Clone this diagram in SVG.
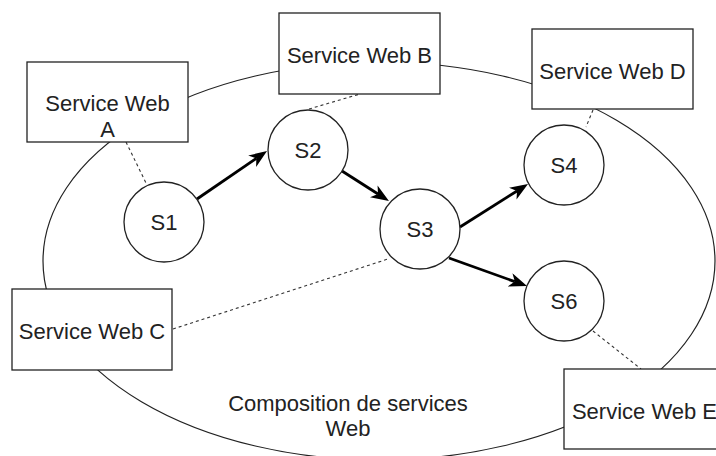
<svg xmlns="http://www.w3.org/2000/svg" width="716" height="456" viewBox="0 0 716 456">
<defs>
<style>
.bg{fill:#fff}
.shape{fill:#fff;stroke:#222;stroke-width:1.3}
.ell{fill:#fff;stroke:#222;stroke-width:1.2}
.lbl{font-family:"Liberation Sans",Arial,sans-serif;font-size:22px;fill:#222;text-anchor:middle}
.dash{fill:none;stroke:#333;stroke-width:1.1;stroke-dasharray:3 3}
.arrow{fill:none;stroke:#000;stroke-width:2.8;marker-end:url(#ah)}
</style>
<marker id="ah" markerUnits="userSpaceOnUse" markerWidth="18" markerHeight="14" refX="5" refY="7" orient="auto" viewBox="0 0 18 14">
<path d="M0,0 L18,7 L0,14 L5,7 Z" fill="#000"/>
</marker>
</defs>
<rect class="bg" x="0" y="0" width="716" height="456"/>
<g id="composition">
<ellipse class="ell" cx="379" cy="261" rx="336" ry="199"/>
<text class="lbl" x="348" y="411">Composition de services</text>
<text class="lbl" x="348" y="436">Web</text>
</g>
<g id="connectors">
<line class="dash" x1="126" y1="142" x2="146" y2="183"/>
<line class="dash" x1="309" y1="109" x2="360" y2="94"/>
<line class="dash" x1="593" y1="110" x2="586" y2="127"/>
<line class="dash" x1="173" y1="329" x2="388" y2="259"/>
<line class="dash" x1="593" y1="331" x2="641" y2="369"/>
<line class="arrow" x1="197" y1="199" x2="256.3" y2="158.4"/>
<line class="arrow" x1="342" y1="171" x2="378.0" y2="194.0"/>
<line class="arrow" x1="460" y1="227" x2="517.0" y2="191.0"/>
<line class="arrow" x1="449" y1="258" x2="514.8" y2="281.6"/>
</g>
<g id="ws-a">
<rect class="shape" x="27" y="62" width="161" height="80"/>
<text class="lbl" x="107.5" y="111">Service Web</text>
<text class="lbl" x="107.5" y="137">A</text>
</g>
<g id="ws-b">
<rect class="shape" x="279" y="13" width="161" height="81"/>
<text class="lbl" x="359.5" y="63">Service Web B</text>
</g>
<g id="ws-d">
<rect class="shape" x="532" y="29" width="161" height="80"/>
<text class="lbl" x="612.5" y="79">Service Web D</text>
</g>
<g id="ws-c">
<rect class="shape" x="12" y="289" width="160" height="81"/>
<text class="lbl" x="92" y="339">Service Web C</text>
</g>
<g id="ws-e">
<rect class="shape" x="564" y="369" width="161" height="80"/>
<text class="lbl" x="644.5" y="419">Service Web E</text>
</g>
<g id="s1">
<circle class="shape" cx="164" cy="222" r="40"/>
<text class="lbl" x="164" y="230">S1</text>
</g>
<g id="s2">
<circle class="shape" cx="308" cy="150" r="40"/>
<text class="lbl" x="308" y="158">S2</text>
</g>
<g id="s3">
<circle class="shape" cx="420" cy="229" r="40"/>
<text class="lbl" x="420" y="237">S3</text>
</g>
<g id="s4">
<circle class="shape" cx="564" cy="165" r="40"/>
<text class="lbl" x="564" y="173">S4</text>
</g>
<g id="s6">
<circle class="shape" cx="564" cy="301" r="40"/>
<text class="lbl" x="564" y="309">S6</text>
</g>
</svg>
